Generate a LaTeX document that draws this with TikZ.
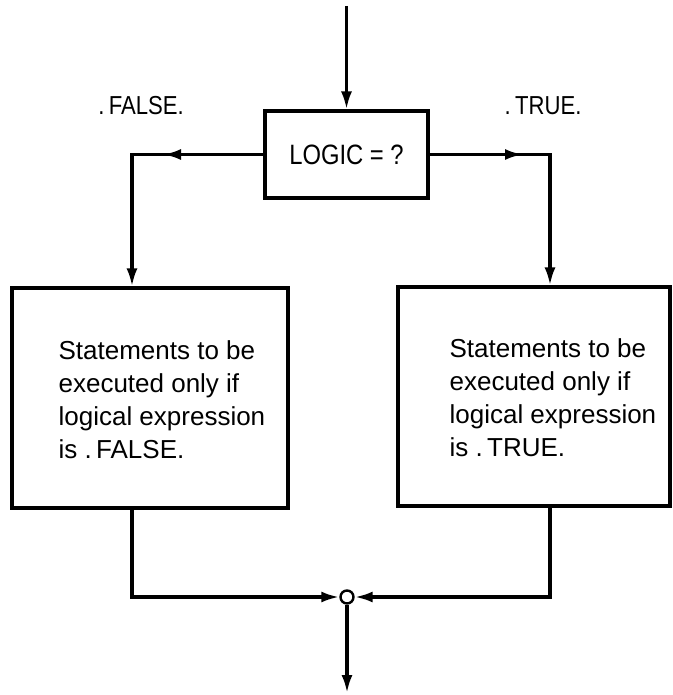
\documentclass[tikz,border=0pt]{standalone}
\usepackage{fontspec}
\setmainfont{Liberation Sans}
\newfontfamily\narrowsans[FakeStretch=0.85]{Liberation Sans}
\usetikzlibrary{arrows.meta}

\begin{document}
\begin{tikzpicture}[x=1pt, y=-1pt,
  line width=3.2pt,
  flow/.style={-{Latex[length=18pt,width=11pt]}},
  box/.style={draw, rectangle, inner sep=0pt},
  body/.style={align=left, anchor=west, inner sep=0pt,
               font=\fontsize{26}{33}\selectfont},
  tag/.style={anchor=base, inner sep=0pt, font=\narrowsans\fontsize{26}{30}\selectfont},
  junction/.style={draw, circle, fill=white, minimum size=13pt, inner sep=0pt, line width=2.4pt}]
  \useasboundingbox (0,0) rectangle (672,695);

  % decision box and incoming flow
  \node[box, minimum width=163pt, minimum height=87pt,
        font=\narrowsans\fontsize{28}{32}\selectfont] (logic) at (346.5,154.5) {LOGIC = ?};
  \coordinate (entry) at (346.5,6);
  \draw[flow] (entry) -- (logic.north);

  % branch labels
  \node[tag] (flab) at (141,115) {.\,FALSE.};
  \node[tag] (tlab) at (543,115) {.\,TRUE.};

  % statement blocks
  \node[box, minimum width=276pt, minimum height=220pt] (fbox) at (150,398) {};
  \node[box, minimum width=272pt, minimum height=219pt] (tbox) at (534,396.5) {};
  \node[body] (ftext) at (57,400) {Statements to be\\executed only if\\logical expression\\is .\,FALSE.};
  \node[body] (ttext) at (448,398) {Statements to be\\executed only if\\logical expression\\is .\,TRUE.};

  % branch corners and mid-line arrow tips
  \coordinate (fcorner) at (132,154.5);
  \coordinate (tcorner) at (550,154.5);
  \coordinate (fmid) at (163,154.5);
  \coordinate (tmid) at (523,154.5);

  \draw[flow] (logic.west) -- (fcorner) -- (fcorner |- fbox.north);
  \draw[flow] (logic.west) -- (fmid);
  \draw[flow] (logic.east) -- (tcorner) -- (tcorner |- tbox.north);
  \draw[flow] (logic.east) -- (tmid);

  % merge point
  \coordinate (fdown) at (132,597);
  \coordinate (tdown) at (550,597);
  \node[junction] (join) at (347,597) {};
  \draw[flow] (fdown |- fbox.south) -- (fdown) -- (join.west);
  \draw[flow] (tdown |- tbox.south) -- (tdown) -- (join.east);

  % outgoing flow
  \coordinate (exit) at (347,693);
  \draw[flow] (join.south) -- (exit);
\end{tikzpicture}
\end{document}
